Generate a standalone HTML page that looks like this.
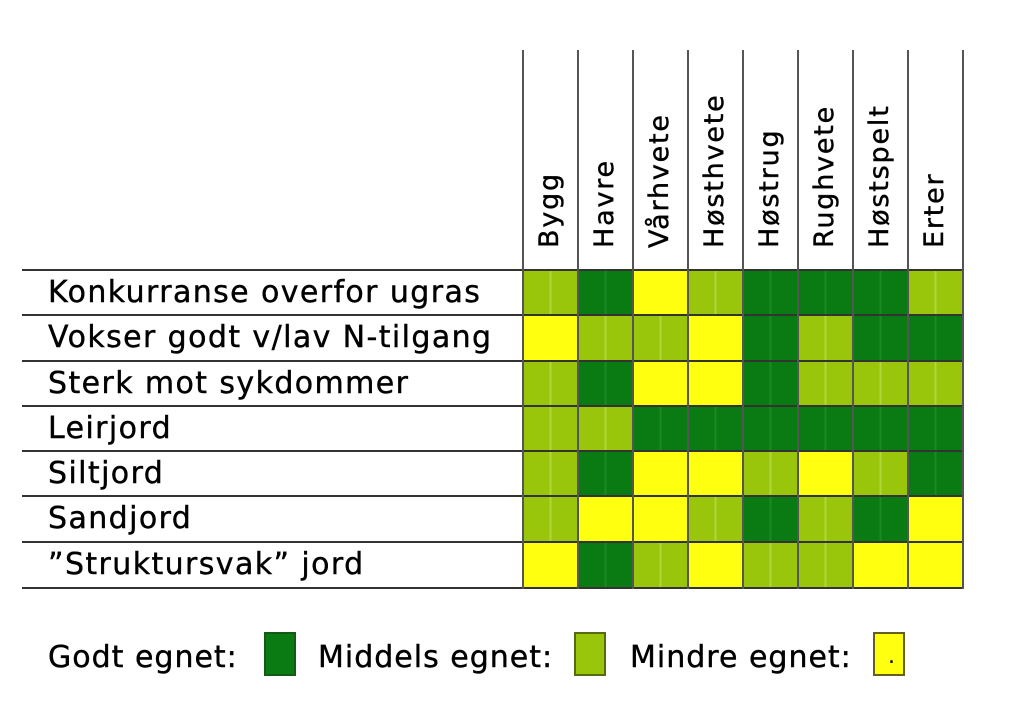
<!DOCTYPE html>
<html><head><style>
body{margin:0;width:1024px;height:716px;background:#fff;position:relative;overflow:hidden;font-family:"DejaVu Sans","Liberation Sans",sans-serif;color:#000}
.v{position:absolute;width:2px;background:#555}
.h{position:absolute;height:2px;background:#333;left:22px;width:942px}
.c{position:absolute;width:55px;height:45px}
.G{background:linear-gradient(90deg,#0a7a12 0 48%,#1a8a20 48% 52%,#0a7a12 52%)}
.M{background:linear-gradient(90deg,#99c60a 0 48%,#b0d83a 48% 52%,#99c60a 52%)}
.Y{background:#ffff10}
.l{position:absolute;left:48px;font-size:30px;letter-spacing:1.4px;line-height:45px;white-space:nowrap;-webkit-text-stroke:0.4px #000}
.hd{position:absolute;font-size:27px;letter-spacing:1.8px;transform:rotate(-90deg);transform-origin:left top;white-space:nowrap;line-height:32px;-webkit-text-stroke:0.4px #000}
.lg{position:absolute;top:636px;font-size:30px;letter-spacing:1px;line-height:44px;-webkit-text-stroke:0.4px #000}
.b{position:absolute;top:632px;width:32px;height:44px;border:2px solid #444;box-sizing:border-box}
</style></head><body>
<div id="g"></div>
<div class="lg" style="left:48px">Godt egnet:</div><div class="b" style="left:264px;background:#0a7a12;border-color:#145a14"></div>
<div class="lg" style="left:318px">Middels egnet:</div><div class="b" style="left:574px;background:#99c60a;border-color:#556b10"></div>
<div class="lg" style="left:630px">Mindre egnet:</div><div class="b" style="left:873px;background:#ffff10;border-color:#666020"><span style="position:absolute;left:13px;top:10px;font-size:22px">.</span></div>
<script>
var xs=[523,578,633,688,743,798,853,908,963],ys=[270,315,361,406,451,496,542,588];
var cols=["Bygg","Havre","Vårhvete","Høsthvete","Høstrug","Rughvete","Høstspelt","Erter"];
var rows=["Konkurranse overfor ugras","Vokser godt v/lav N-tilgang","Sterk mot sykdommer","Leirjord","Siltjord","Sandjord","”Struktursvak” jord"];
var d=["MGYMGGGM","YMMYGMGG","MGYYGMMM","MMGGGGGG","MGYYMYMG","MYYMGMGY","YGMYMMYY"];
var h="";
for(var r=0;r<7;r++){h+='<div class="l" style="top:'+(ys[r])+'px">'+rows[r]+'</div>';
for(var c=0;c<8;c++)h+='<div class="c '+d[r][c]+'" style="left:'+xs[c]+'px;top:'+ys[r]+'px;height:'+(ys[r+1]-ys[r])+'px"></div>';}
for(var i=0;i<8;i++)h+='<div class="h" style="top:'+(ys[i]-1)+'px"></div>';
for(var i=0;i<9;i++)h+='<div class="v" style="left:'+(xs[i]-1)+'px;top:50px;height:539px"></div>';
for(var c=0;c<8;c++)h+='<div class="hd" style="left:'+(xs[c]+11)+'px;top:248px">'+cols[c]+'</div>';
document.getElementById("g").innerHTML=h;
</script>
</body></html>
